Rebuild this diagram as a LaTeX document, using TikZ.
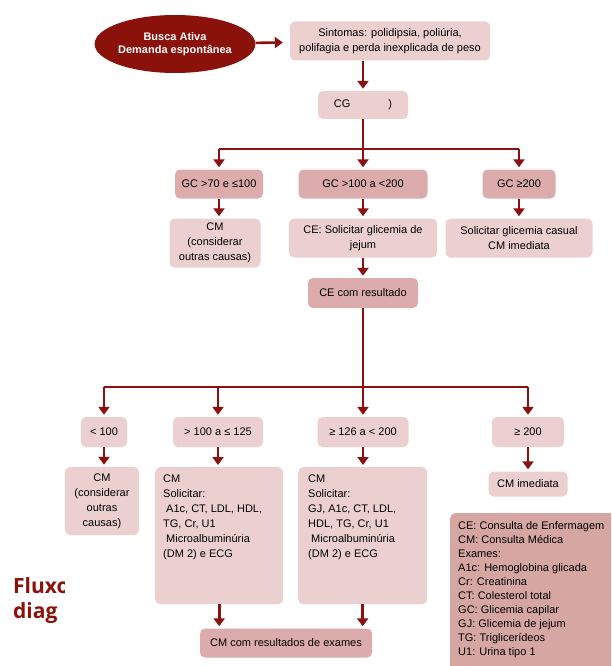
\documentclass[tikz,border=0pt]{standalone}
\usepackage{fontspec}
\setmainfont{Liberation Sans}
\newfontfamily\titlefont{Open Sans}
\usepackage{tikz}
\usetikzlibrary{arrows.meta,shapes.geometric}

\definecolor{darkred}{RGB}{139,18,10}
\definecolor{arrowred}{RGB}{140,16,16}
\definecolor{boxlight}{RGB}{236,208,208}
\definecolor{boxdark}{RGB}{220,172,172}
\definecolor{legendfill}{RGB}{214,166,163}

\tikzset{
  lbox/.style={fill=boxlight, rounded corners=5pt, align=center, inner sep=2pt,
    font=\fontsize{11}{15}\selectfont},
  dbox/.style={lbox, fill=boxdark},
  ln/.style={draw=arrowred, line width=2.6pt},
  arr/.style={ln, -{Triangle[width=11pt,length=8pt]}, shorten >=2pt},
}

\begin{document}
\begin{tikzpicture}[x=1pt,y=-1pt]
\clip (0,0) rectangle (611,666);

%Start
\node (busca) [ellipse, fill=darkred, minimum width=154, minimum height=58, inner sep=0pt,
  align=center, text=white, font=\fontsize{11}{13.5}\selectfont\bfseries] at (175,44)
  {Busca Ativa\\Demanda espontânea};
\node (sint) [lbox, minimum width=200, minimum height=39] at (390,41)
  {Sintomas: polidipsia, poliúria,\\polifagia e perda inexplicada de peso};
\node (cg) [lbox, minimum width=90, minimum height=28] at (363,105) {CG\hspace{38pt})};

%Level 1
\coordinate (j1) at (363,149);
\node (gc1) [dbox, minimum width=88, minimum height=29] at (219,184) {GC >70 e ≤100};
\node (gc2) [dbox, minimum width=129, minimum height=29] at (363,184) {GC >100 a <200};
\node (gc3) [dbox, minimum width=73, minimum height=29] at (519,184) {GC ≥200};
\node (cm1) [lbox, minimum width=91, minimum height=49] at (215,243)
  {CM\\(considerar\\outras causas)};
\node (ce1) [lbox, minimum width=148, minimum height=39] at (363,238)
  {CE: Solicitar glicemia de\\jejum};
\node (sgc) [lbox, minimum width=147, minimum height=39] at (519,238)
  {Solicitar glicemia casual\\CM imediata};
\node (ceres) [dbox, minimum width=110, minimum height=30] at (363,293) {CE com resultado};

%Level 2
\coordinate (j2) at (363,387);
\node (r1) [lbox, minimum width=46, minimum height=30] at (104,432) {< 100};
\node (r2) [lbox, minimum width=90, minimum height=30] at (218,432) {> 100 a ≤ 125};
\node (r3) [lbox, minimum width=91, minimum height=30] at (363,432) {≥ 126 a < 200};
\node (r4) [lbox, minimum width=72, minimum height=30] at (528,432) {≥ 200};
\node (cm2) [lbox, minimum width=74, minimum height=68] at (102,501)
  {CM\\(considerar\\outras\\causas)};
\node (cm3) [lbox, anchor=north west, inner xsep=8pt, inner ysep=8pt] at (155,467)
  {\parbox[t][121pt][t]{112pt}{CM\\Solicitar:\\\hspace*{3pt}A1c, CT, LDL, HDL,\\TG, Cr, U1\\\hspace*{3pt}Microalbuminúria\\(DM 2) e ECG}};
\node (cm4) [lbox, anchor=north west, inner xsep=10pt, inner ysep=8pt] at (298,467)
  {\parbox[t][121pt][t]{109pt}{CM\\Solicitar:\\GJ, A1c, CT, LDL,\\HDL, TG, Cr, U1\\\hspace*{3pt}Microalbuminúria\\(DM 2) e ECG}};
\node (cmi) [lbox, minimum width=79, minimum height=25] at (528,484) {CM imediata};
\node (cmres) [dbox, minimum width=172, minimum height=29] at (286,643) {CM com resultados de exames};

%Legend
\node (legenda) [lbox, fill=legendfill, anchor=north west, inner xsep=8pt, inner ysep=8pt] at (450,513)
  {\parbox[t][160pt][t]{160pt}{\fontsize{11}{14}\selectfont
  CE: Consulta de Enfermagem\\CM: Consulta Médica\\Exames:\\A1c: Hemoglobina glicada\\
  Cr: Creatinina\\CT: Colesterol total\\GC: Glicemia capilar\\GJ: Glicemia de jejum\\
  TG: Triglicerídeos\\U1: Urina tipo 1}};

%Title (cut)
\begin{scope}
\clip (0,560) rectangle (64,640);
\node (titulo) [anchor=north west, align=left, inner sep=0pt, text=darkred,
  font=\titlefont\bfseries\fontsize{21}{25}\selectfont] at (13,577) {Fluxo\\diag};
\end{scope}

%Connectors
\draw[arr, shorten >=7pt] (busca) -- (sint);
\draw[arr] (cg.north |- sint.south) -- (cg.north);
\draw[ln] (cg.south) -- (j1);
\draw[ln] (gc1.north |- j1) -- (gc3.north |- j1);
\foreach \n in {gc1,gc2,gc3}
  \draw[arr] (\n.north |- j1) -- (\n.north);
\draw[arr] (gc1.south) -- (gc1.south |- cm1.north);
\draw[arr] (gc2.south) -- (ce1.north);
\draw[arr] (gc3.south) -- (sgc.north);
\draw[arr] (ce1.south) -- (ceres.north);
\draw[ln] (ceres.south) -- (j2);
\draw[ln] (r1.north |- j2) -- (r4.north |- j2);
\foreach \n in {r1,r2,r3,r4}
  \draw[arr] (\n.north |- j2) -- (\n.north);
\draw[arr] (r1.south) -- (r1.south |- cm2.north);
\draw[arr] (r2.south) -- (r2.south |- cm3.north);
\draw[arr] (r3.south) -- (r3.south |- cm4.north);
\draw[arr] (r4.south) -- (cmi.north);
\draw[arr] (cm3.south) -- (cm3.south |- cmres.north);
\draw[arr] (cm4.south) -- (cm4.south |- cmres.north);

\end{tikzpicture}
\end{document}
